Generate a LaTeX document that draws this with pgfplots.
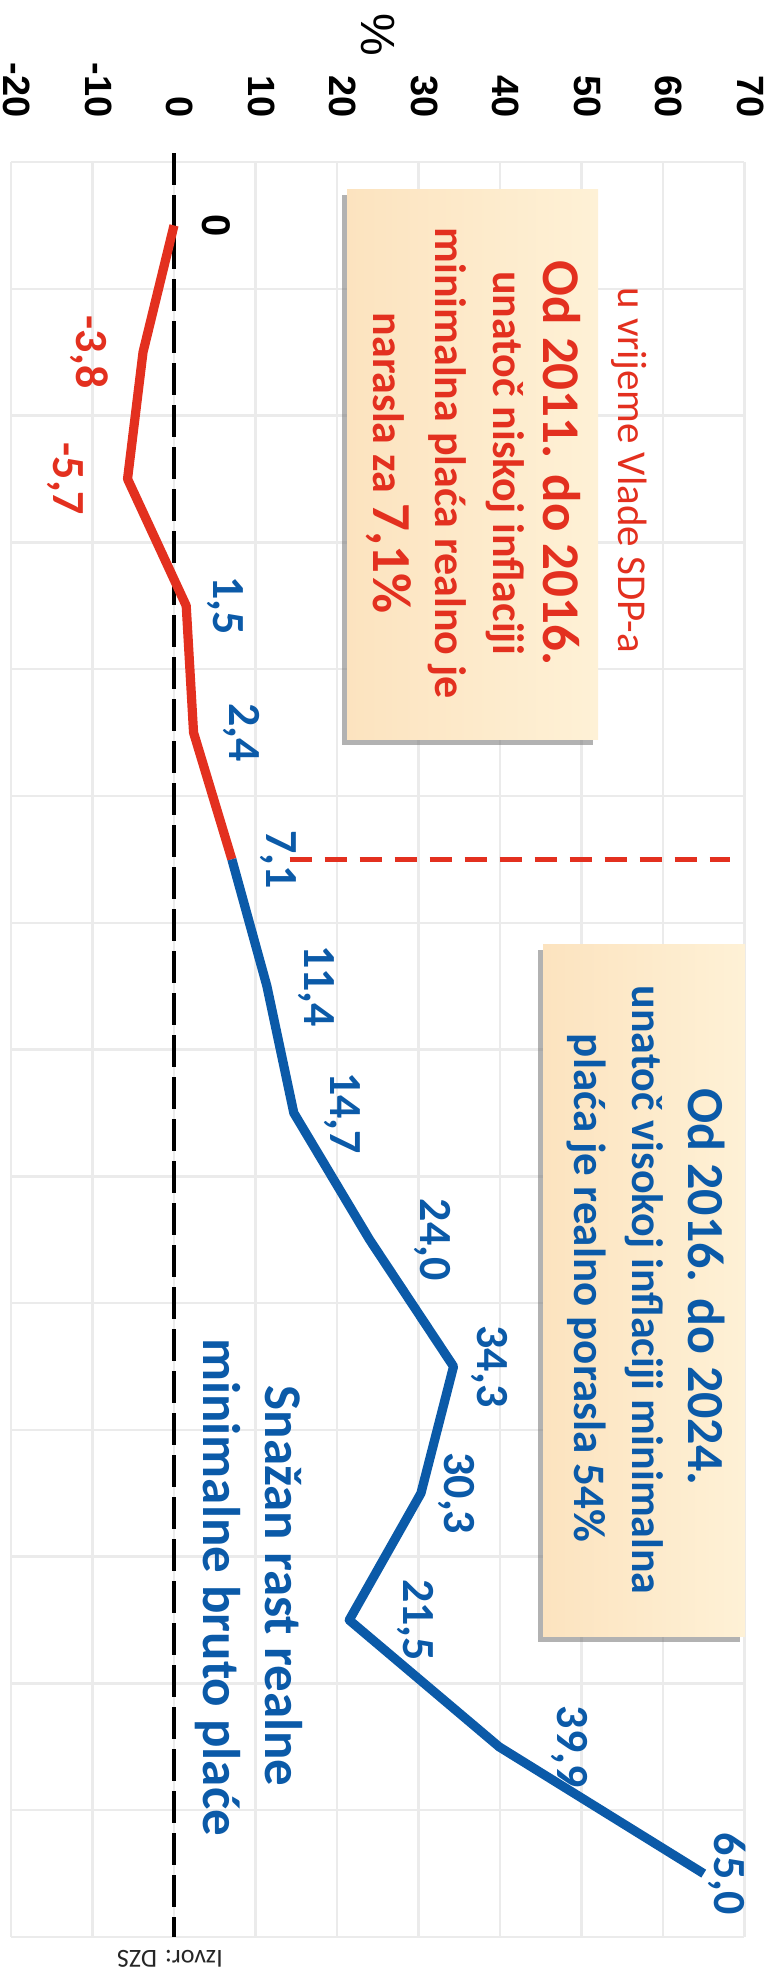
\documentclass[border=0pt]{standalone}
\usepackage{fontspec}
\setmainfont{Carlito}
\newfontfamily\arial{Liberation Sans}
\usepackage{pgfplots}
\pgfplotsset{compat=1.18}
\definecolor{cred}{HTML}{E3301F}
\definecolor{cblue}{HTML}{0B5AA8}
\definecolor{boxA}{HTML}{FCE3BF}
\definecolor{boxB}{HTML}{FEF1D6}
\definecolor{gridc}{HTML}{EBEBEB}

\begin{document}
\begin{tikzpicture}[
  lab/.style={rotate=-90, inner sep=0pt, font=\bfseries\fontsize{23}{24}\selectfont},
  txt/.style={rotate=-90, inner sep=0pt, anchor=base},
]
\useasboundingbox (0,0) rectangle (385.5pt,986pt);

\begin{axis}[
  at={(5.5pt,17.5pt)}, anchor=south west,
  scale only axis, width=366.75pt, height=887.5pt,
  xmin=-20, xmax=70, ymin=-0.5, ymax=13.5, y dir=reverse,
  xtick={-20,-10,...,70},
  xticklabels={-20,-10,0,10,20,30,40,50,60,70},
  xticklabel pos=upper,
  xticklabel style={xshift=2.8pt, rotate=-90, anchor=east, inner sep=0pt,
    font=\arial\bfseries\fontsize{19}{20}\selectfont},
  xticklabel shift=22pt,
  ytick={-0.5,0.5,...,13.5}, yticklabels={},
  grid=major, major grid style={gridc, line width=1.2pt},
  major tick length=0pt,
  axis line style={draw=none},
  clip=false,
]
% zero line
\addplot[black, line width=2pt, dash pattern=on 16pt off 5pt] coordinates {(0,-0.57) (0,13.5)};
% 2016 separator
\addplot[cred, line width=2.2pt, dash pattern=on 11pt off 6.5pt] coordinates {(14.2,5) (68.2,5)};
% 2011-2016
\addplot[cred, line width=4.6pt, line join=round] coordinates {
(0,0) (-3.8,1) (-5.7,2) (1.5,3) (2.4,4) (7.1,5)};
% 2016-2024
\addplot[cblue, line width=4.6pt, line join=round] coordinates {
(7.1,5) (11.4,6) (14.7,7) (24.0,8) (34.3,9) (30.3,10) (21.5,11) (39.9,12) (65.0,13)};

\node[rotate=-90, inner sep=0pt, font=\arial\bfseries\fontsize{20}{21}\selectfont] at (axis cs:5.2,0) {0};
\node[lab, text=cred] at (axis cs:-10.4,1) {-3,8};
\node[lab, text=cred] at (axis cs:-13.3,2) {-5,7};
\node[lab, text=cblue] at (axis cs:6.3,3) {1,5};
\node[lab, text=cblue] at (axis cs:8.3,4) {2,4};
\node[lab, text=cblue] at (axis cs:12.8,5) {7,1};
\node[lab, text=cblue] at (axis cs:17.5,6) {11,4};
\node[lab, text=cblue] at (axis cs:20.7,7) {14,7};
\node[lab, text=cblue] at (axis cs:31.7,8) {24,0};
\node[lab, text=cblue] at (axis cs:38.7,9) {34,3};
\node[lab, text=cblue] at (axis cs:34.6,10) {30,3};
\node[lab, text=cblue] at (axis cs:29.6,11) {21,5};
\node[lab, text=cblue] at (axis cs:48.5,12) {39,9};
\node[lab, text=cblue] at (axis cs:67.9,13) {65,0};
\end{axis}

\begin{scope}[x=0.5pt, y=-0.5pt, shift={(0,986pt)}]
% axis title
\node[rotate=-90, inner sep=0pt, font=\arial\fontsize{24}{25}\selectfont] at (378,35) {\%};

% box 1
\fill[black!55, opacity=0.55] (342,195) rectangle (593,745);
\shade[left color=boxA, right color=boxB] (347,190) rectangle (598,740);
\node[txt, text=cred, font=\bfseries\fontsize{26.5}{27}\selectfont] at (543,463) {Od 2011. do 2016.};
\node[txt, text=cred, font=\bfseries\fontsize{22}{23}\selectfont] at (493,463) {unatoč niskoj inflaciji};
\node[txt, text=cred, font=\bfseries\fontsize{22}{23}\selectfont] at (435,463) {minimalna plaća realno je};
\node[txt, text=cred, font=\bfseries\fontsize{22}{23}\selectfont] at (373,463) {narasla za {\fontsize{27.5}{28}\selectfont 7,1\%}};
\node[txt, text=cred, font=\fontsize{20.5}{21}\selectfont] at (618,470) {u vrijeme Vlade SDP-a};

% box 2
\fill[black!55, opacity=0.55] (538,950) rectangle (740,1642);
\shade[left color=boxA, right color=boxB] (543,945) rectangle (745,1637);
\node[txt, text=cblue, font=\bfseries\fontsize{26}{27}\selectfont] at (688,1287) {Od 2016. do 2024.};
\node[txt, text=cblue, font=\bfseries\fontsize{22}{23}\selectfont] at (632,1290) {unatoč visokoj inflaciji minimalna};
\node[txt, text=cblue, font=\bfseries\fontsize{22.5}{23}\selectfont] at (574,1288) {plaća je realno porasla 54\%};

% free text
\node[txt, text=cblue, font=\bfseries\fontsize{26.5}{27}\selectfont] at (265,1586) {Snažan rast realne};
\node[txt, text=cblue, font=\bfseries\fontsize{26.5}{27}\selectfont] at (203,1587) {minimalne bruto plaće};

% source
\node[rotate=180, inner sep=0pt, text=black!85, font=\fontsize{13}{14}\selectfont] at (170,1959) {Izvor: DZS};
\end{scope}
\end{tikzpicture}
\end{document}
